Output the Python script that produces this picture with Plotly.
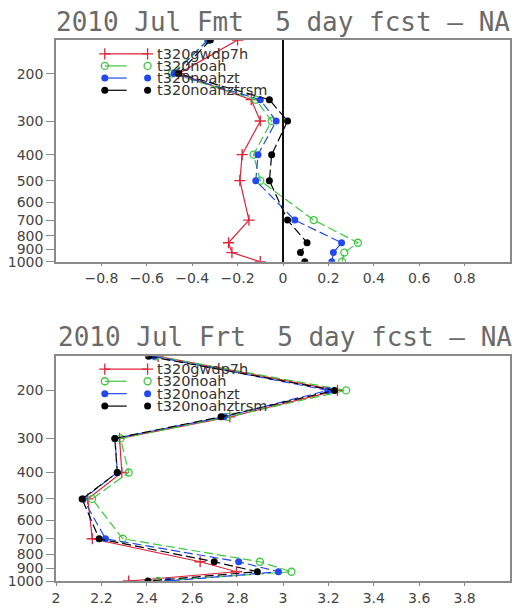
import numpy as np
import plotly.graph_objects as go

# ---------------- data ----------------
levels = [150, 200, 250, 300, 400, 500, 700, 850, 925, 1000]
series_names = ["t320gwdp7h", "t320noah", "t320noahzt", "t320noahztrsm"]

# Panel 1: Fmt
fmt_gwdp7h = [-0.20, -0.46, -0.14, -0.10, -0.18, -0.19, -0.15, -0.24, -0.225, -0.10]
fmt_noah = [-0.33, -0.49, -0.12, -0.05, -0.13, -0.10, 0.135, 0.33, 0.27, 0.26]
fmt_noahzt = [-0.33, -0.48, -0.10, -0.03, -0.11, -0.12, 0.052, 0.258, 0.222, 0.215]
fmt_noahztrsm = [-0.32, -0.46, -0.06, 0.02, -0.05, -0.06, 0.02, 0.106, 0.077, 0.096]

# Panel 2: Frt
frt_gwdp7h = [2.45, 3.24, 2.766, 2.28, 2.29, 2.14, 2.16, 2.635, 2.795, 2.32]
frt_noah = [2.44, 3.278, 2.755, 2.284, 2.32, 2.159, 2.294, 2.898, 3.037, 2.45]
frt_noahzt = [2.43, 3.197, 2.74, 2.26, 2.27, 2.12, 2.218, 2.805, 2.98, 2.493]
frt_noahztrsm = [2.408, 3.227, 2.727, 2.259, 2.27, 2.115, 2.19, 2.697, 2.887, 2.405]

y_tickvals = [200, 300, 400, 500, 600, 700, 800, 900, 1000]
y_ticktext = ["200", "300", "400", "500", "600", "700", "800", "900", "1000"]
x1_tickvals = [-0.8, -0.6, -0.4, -0.2, 0, 0.2, 0.4, 0.6, 0.8]
x1_ticktext = ["\u22120.8", "\u22120.6", "\u22120.4", "\u22120.2", "0", "0.2", "0.4", "0.6", "0.8"]
x2_tickvals = [2, 2.2, 2.4, 2.6, 2.8, 3, 3.2, 3.4, 3.6, 3.8]
x2_ticktext = ["2", "2.2", "2.4", "2.6", "2.8", "3", "3.2", "3.4", "3.6", "3.8"]

titles = ["2010 Jul Fmt  5 day fcst \u2013 NA", "2010 Jul Frt  5 day fcst \u2013 NA"]

# ---------------- styles ----------------
colors = ["#e0243a", "#3cc83c", "#2448f0", "#000000"]
symbols = ["cross-thin", "circle-open", "circle", "circle"]
dashes = ["solid", "9px,4px", "9px,4px", "9px,4px"]

W, H = 518, 612
L, R, T, B = 56, 6, 40, 23
ph = H - T - B
def ypaper(py):
    return (H - B - py) / ph

fig = go.Figure()

def marker_for(i):
    return dict(symbol=symbols[i], color=colors[i], size=7 if i != 0 else 8,
                line=dict(color=colors[i], width=1.3 if i <= 1 else 0))

panels = [
    ([fmt_gwdp7h, fmt_noah, fmt_noahzt, fmt_noahztrsm], "x", "y"),
    ([frt_gwdp7h, frt_noah, frt_noahzt, frt_noahztrsm], "x2", "y2"),
]
for data, xa, ya in panels:
    for i, vals in enumerate(data):
        fig.add_trace(go.Scatter(
            x=vals, y=levels, xaxis=xa, yaxis=ya, mode="lines+markers",
            line=dict(color=colors[i], width=1.2, dash=dashes[i]),
            marker=marker_for(i), showlegend=False, name=series_names[i],
        ))

# ---------------- manual legends (pixel overlay axis) ----------------
legend_rows = [[54, 66.3, 78.6, 91], [374, 386.3, 398.9, 411.5]]
annotations = []
for rows in legend_rows:
    for i, py in enumerate(rows):
        x_end = 148 if i == 0 else 127
        fig.add_trace(go.Scatter(
            x=[105, x_end], y=[py, py], xaxis="x3", yaxis="y3", mode="lines",
            line=dict(color=colors[i], width=1.2), showlegend=False, hoverinfo="skip"))
        fig.add_trace(go.Scatter(
            x=[105, 148], y=[py, py], xaxis="x3", yaxis="y3", mode="markers",
            marker=marker_for(i), showlegend=False, hoverinfo="skip"))
        annotations.append(dict(
            x=155, y=py, xref="x3", yref="y3", text=series_names[i], showarrow=False,
            xanchor="left", yanchor="middle",
            font=dict(family="DejaVu Sans", size=14.5, color="#333333")))

# titles
annotations.append(dict(x=0.5, y=ypaper(22), xref="paper", yref="paper", text=titles[0],
                        showarrow=False, xanchor="center", yanchor="middle",
                        font=dict(family="DejaVu Sans Mono", size=26, color="#6a6a6a")))
annotations.append(dict(x=0.505, y=ypaper(341.5), xref="paper", yref="paper", text=titles[1],
                        showarrow=False, xanchor="center", yanchor="middle",
                        font=dict(family="DejaVu Sans Mono", size=26, color="#6a6a6a")))

tickfont = dict(family="DejaVu Sans", size=14, color="#444444")
frame = dict(showline=True, mirror=True, linecolor="#8a8a8a", linewidth=1.5,
             showgrid=False, tickcolor="#8a8a8a", tickfont=tickfont)

top_dom = [ypaper(265), 1.0]
bot_dom = [0.0, ypaper(361)]
yr = [np.log10(1000), np.log10(150)]

fig.update_layout(
    width=W, height=H,
    margin=dict(l=L, r=R, t=T, b=B, pad=0),
    paper_bgcolor="white", plot_bgcolor="rgba(0,0,0,0)",
    showlegend=False,
    annotations=annotations,
    xaxis=dict(domain=[0, 1], anchor="y", range=[-1, 1], tickvals=x1_tickvals,
               ticktext=x1_ticktext, ticks="outside", ticklen=3,
               zeroline=True, zerolinecolor="#111111", zerolinewidth=2, **frame),
    yaxis=dict(domain=top_dom, anchor="x", type="log", range=yr, tickvals=y_tickvals,
               ticktext=y_ticktext, ticks="outside", ticklen=8, zeroline=False, **frame),
    xaxis2=dict(domain=[0, 1], anchor="y2", range=[2, 4], tickvals=x2_tickvals,
                ticktext=x2_ticktext, ticks="outside", ticklen=3, zeroline=False, **frame),
    yaxis2=dict(domain=bot_dom, anchor="x2", type="log", range=yr, tickvals=y_tickvals,
                ticktext=y_ticktext, ticks="outside", ticklen=8, zeroline=False, **frame),
    xaxis3=dict(domain=[0, 1], anchor="y3", range=[L, W - R], visible=False, fixedrange=True),
    yaxis3=dict(domain=[0, 1], anchor="x3", range=[H - B, T], visible=False, fixedrange=True),
)

fig.write_html("out.html")
